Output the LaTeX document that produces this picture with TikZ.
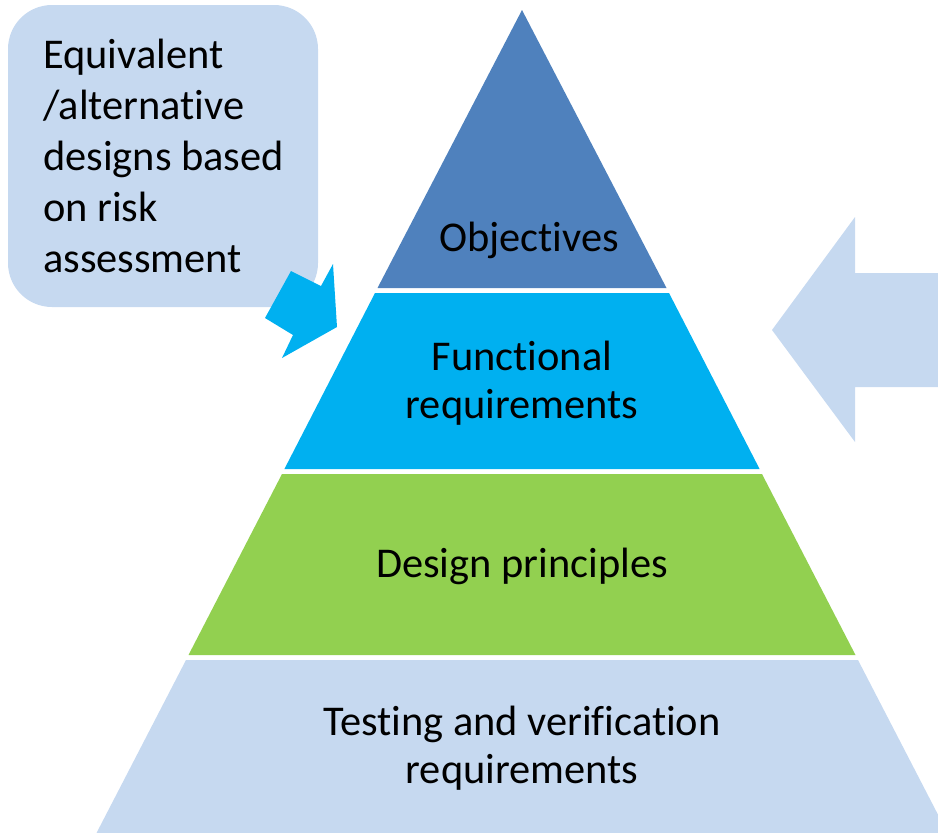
\documentclass[tikz,border=0pt]{standalone}
\usepackage{fontspec}
\setmainfont[Ligatures=NoCommon]{Carlito}
\definecolor{objc}{HTML}{4F81BD}
\definecolor{funcc}{HTML}{00B0F0}
\definecolor{desc}{HTML}{92D050}
\definecolor{lightc}{HTML}{C6D9F0}
\tikzset{
  lbl/.style={anchor=base, inner sep=0pt, font=\fontsize{42.4}{48}\selectfont, text=black},
  boxlbl/.style={anchor=base west, inner sep=0pt, font=\fontsize{42.4}{51}\selectfont, text=black}
}
\begin{document}
\begin{tikzpicture}[x=1pt,y=-1pt]
\useasboundingbox (0,0) rectangle (938,833);
\begin{scope}
\clip (0,0) rectangle (938,833);
% rounded box
\fill[lightc, rounded corners=44pt] (8,5) rectangle (318,307);
% pyramid layers (apex 522,10; slope 0.516)
\fill[objc] (522,10) -- (666.5,288) -- (377.5,288) -- cycle;
\fill[funcc] (375,293) -- (669,293) -- (759.6,469) -- (284.4,469) -- cycle;
\fill[desc] (282,474) -- (762,474) -- (855.5,655) -- (188.5,655) -- cycle;
\fill[lightc] (186,660) -- (858,660) -- (947.5,833) -- (96.5,833) -- cycle;
% left arrow
\fill[funcc] (265,318) -- (291,271) -- (321,286) -- (333,264) -- (337,327) -- (282,358) -- (293,335) -- cycle;
% right arrow
\fill[lightc] (772,330) -- (855,217) -- (855,273) -- (940,273) -- (940,387) -- (855,387) -- (855,442) -- cycle;
\end{scope}
% box text
\node[boxlbl] (b1) at (43,68) {Equivalent};
\node[boxlbl] (b2) at (43,119) {/alternative};
\node[boxlbl] (b3) at (43,170) {designs based};
\node[boxlbl] (b4) at (43,221) {on risk};
\node[boxlbl] (b5) at (43,272) {assessment};
% pyramid text
\node[lbl] (obj) at (529,251) {Objectives};
\node[lbl] (fr1) at (522,370) {Functional};
\node[lbl] (fr2) at (522,418) {requirements};
\node[lbl] (dp) at (522,577) {Design principles};
\node[lbl] (tv1) at (522,735) {Testing and verification};
\node[lbl] (tv2) at (522,783) {requirements};
\end{tikzpicture}
\end{document}
